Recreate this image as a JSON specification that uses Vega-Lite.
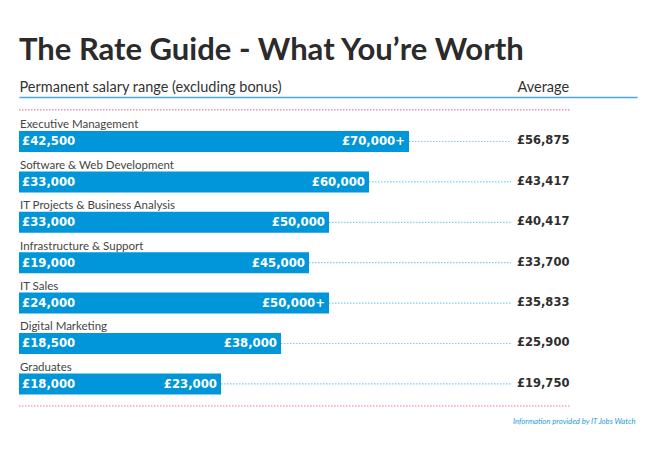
{
  "$schema": "https://vega.github.io/schema/vega-lite/v6.json",
  "width": 618,
  "height": 296,
  "autosize": {"type": "none"},
  "padding": {"left": 19, "top": 110, "right": 22, "bottom": 51},
  "background": "white",
  "title": {
    "text": "The Rate Guide - What You’re Worth",
    "anchor": "start",
    "frame": "group",
    "font": "Lato",
    "fontSize": 31,
    "fontWeight": "bold",
    "color": "#2b2b2b",
    "baseline": "alphabetic",
    "offset": -12
  },
  "config": {
    "view": {"stroke": null},
    "text": {"font": "DejaVu Sans"}
  },
  "data": {
    "values": [
      {"role": "Executive Management", "min": 42500, "max": 70000, "avg": 56875, "minLabel": "£42,500", "maxLabel": "£70,000+", "avgLabel": "£56,875"},
      {"role": "Software & Web Development", "min": 33000, "max": 60000, "avg": 43417, "minLabel": "£33,000", "maxLabel": "£60,000", "avgLabel": "£43,417"},
      {"role": "IT Projects & Business Analysis", "min": 33000, "max": 50000, "avg": 40417, "minLabel": "£33,000", "maxLabel": "£50,000", "avgLabel": "£40,417"},
      {"role": "Infrastructure & Support", "min": 19000, "max": 45000, "avg": 33700, "minLabel": "£19,000", "maxLabel": "£45,000", "avgLabel": "£33,700"},
      {"role": "IT Sales", "min": 24000, "max": 50000, "avg": 35833, "minLabel": "£24,000", "maxLabel": "£50,000+", "avgLabel": "£35,833"},
      {"role": "Digital  Marketing", "min": 18500, "max": 38000, "avg": 25900, "minLabel": "£18,500", "maxLabel": "£38,000", "avgLabel": "£25,900"},
      {"role": "Graduates", "min": 18000, "max": 23000, "avg": 19750, "minLabel": "£18,000", "maxLabel": "£23,000", "avgLabel": "£19,750"}
    ]
  },
  "encoding": {
    "y": {
      "field": "role",
      "type": "nominal",
      "sort": null,
      "axis": null,
      "scale": {"paddingInner": 0, "paddingOuter": 0.163, "align": 0.856}
    }
  },
  "resolve": {"axis": {"x": "independent"}},
  "layer": [
    {
      "mark": {"type": "bar", "color": "#0096d9", "height": 21},
      "encoding": {
        "x": {
          "field": "max",
          "type": "quantitative",
          "scale": {"domain": [-27500, 127000], "nice": false, "zero": false},
          "axis": {
            "orient": "top",
            "offset": 13,
            "values": [97000],
            "labelExpr": "'Average'",
            "labelAlign": "left",
            "labelBaseline": "alphabetic",
            "labelPadding": 6,
            "ticks": false,
            "tickSize": 0,
            "grid": false,
            "domainColor": "#4aa8de",
            "domainWidth": 1.5,
            "labelFont": "Lato",
            "labelFontSize": 14.5,
            "labelColor": "#333333",
            "labelFlush": false,
            "labelOverlap": false,
            "title": "Permanent salary range (excluding bonus)",
            "titleAnchor": "start",
            "titleAlign": "left",
            "titleBaseline": "alphabetic",
            "titleX": 0,
            "titleY": -6,
            "titleFont": "Lato",
            "titleFontWeight": "normal",
            "titleFontSize": 14.5,
            "titleColor": "#333333"
          }
        },
        "x2": {"datum": -27500}
      }
    },
    {
      "mark": {"type": "rule", "color": "#7ccdf0", "strokeWidth": 1.2, "strokeDash": [1.5, 1.5]},
      "encoding": {
        "x": {
          "field": "max",
          "type": "quantitative",
          "scale": {"domain": [-27500, 127000], "nice": false, "zero": false},
          "axis": {
            "orient": "bottom",
            "domain": false,
            "ticks": false,
            "labels": false,
            "grid": false,
            "title": "Information provided by IT Jobs Watch",
            "titleAnchor": "end",
            "titleAlign": "right",
            "titleBaseline": "middle",
            "titleX": 616,
            "titleY": 15,
            "titleFont": "Lato",
            "titleFontStyle": "italic",
            "titleFontWeight": "normal",
            "titleFontSize": 7.7,
            "titleColor": "#1e9cd8"
          }
        },
        "x2": {"datum": 95500}
      }
    },
    {
      "mark": {"type": "text", "align": "left", "baseline": "alphabetic", "dx": 1, "dy": -13, "font": "Lato", "fontSize": 11.5, "color": "#454545"},
      "encoding": {
        "x": {"datum": -27500, "type": "quantitative", "scale": {"domain": [-27500, 127000], "nice": false, "zero": false}, "axis": null},
        "text": {"field": "role"}
      }
    },
    {
      "mark": {"type": "text", "align": "left", "baseline": "middle", "dx": 3, "fontSize": 11.7, "fontWeight": "bold", "color": "white"},
      "encoding": {
        "x": {"datum": -27500, "type": "quantitative", "scale": {"domain": [-27500, 127000], "nice": false, "zero": false}, "axis": null},
        "text": {"field": "minLabel"}
      }
    },
    {
      "mark": {"type": "text", "align": "right", "baseline": "middle", "dx": -4, "fontSize": 11.7, "fontWeight": "bold", "color": "white"},
      "encoding": {
        "x": {"field": "max", "type": "quantitative", "scale": {"domain": [-27500, 127000], "nice": false, "zero": false}, "axis": null},
        "text": {"field": "maxLabel"}
      }
    },
    {
      "mark": {"type": "text", "align": "left", "baseline": "middle", "fontSize": 11.5, "fontWeight": "bold", "color": "#2e2e2e"},
      "encoding": {
        "x": {"datum": 97000, "type": "quantitative", "scale": {"domain": [-27500, 127000], "nice": false, "zero": false}, "axis": null},
        "text": {"field": "avgLabel"}
      }
    },
    {
      "data": {"values": [{"edge": "top"}]},
      "mark": {"type": "rule", "color": "#ee7d92", "strokeWidth": 1.2, "strokeDash": [1.5, 1.5]},
      "encoding": {
        "y": {"datum": "Executive Management", "type": "nominal", "bandPosition": -0.28},
        "x": {"datum": -27500, "type": "quantitative", "scale": {"domain": [-27500, 127000], "nice": false, "zero": false}, "axis": null},
        "x2": {"datum": 110250}
      }
    },
    {
      "data": {"values": [{"edge": "bottom"}]},
      "mark": {"type": "rule", "color": "#ee7d92", "strokeWidth": 1.2, "strokeDash": [1.5, 1.5]},
      "encoding": {
        "y": {"datum": "Graduates", "type": "nominal", "bandPosition": 1.047},
        "x": {"datum": -27500, "type": "quantitative", "scale": {"domain": [-27500, 127000], "nice": false, "zero": false}, "axis": null},
        "x2": {"datum": 110250}
      }
    }
  ]
}
